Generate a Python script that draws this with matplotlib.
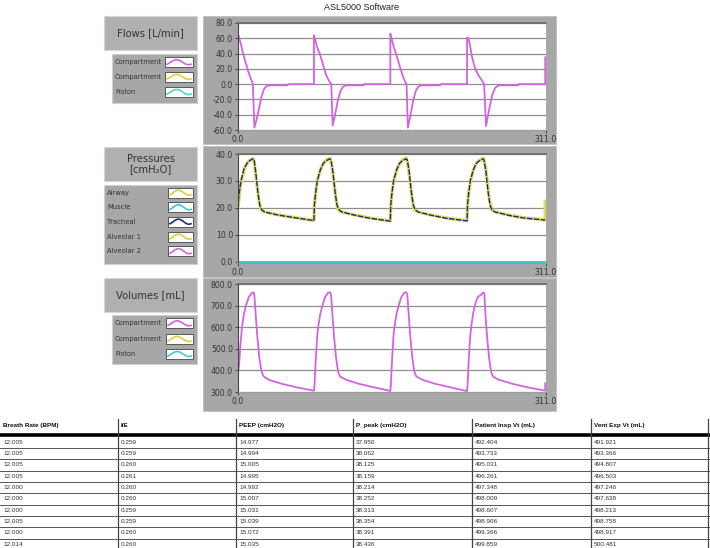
import matplotlib
matplotlib.use("Agg")
import matplotlib.pyplot as plt
from matplotlib.patches import Rectangle
import numpy as np

# ---------------- data ----------------
flow_t = [0, 1, 3, 5, 8, 11, 13.5, 15, 16.5, 19, 21.5, 24, 26.5, 29, 33, 50, 50.5,
          76.7, 76.7, 77.8, 80, 82.5, 85.5, 89, 92, 94.2, 95.6, 98, 101, 103.5, 106, 109, 127, 127.5,
          153.8, 153.8, 155, 157, 159.5, 162.5, 166, 168.5, 170.2, 171.5, 174, 177, 179.5, 182, 185, 204, 204.5,
          231.3, 231.3, 232.8, 234.5, 236.2, 239.5, 242.9, 246.2, 248.5, 250.5, 253, 256.5, 259.5, 262.5, 265.5, 283, 283.5,
          310.2, 310.2]
flow_v = [65, 62, 52, 40, 27, 14, 5, 1, -57, -45, -30, -15, -6, -2.5, -1.5, -1.5, 0,
          0, 64, 59, 48, 40, 27, 12, 4, 0, -54, -40, -20, -9, -3.5, -1.5, -1.5, 0,
          0, 66, 60, 50, 40, 27, 12, 4, 0, -57, -42, -21, -9, -3.5, -1.5, -1.5, 0,
          0, 61, 60, 49, 36, 20, 11.5, 5, 0, -55, -37, -15, -5, -2, -1.5, -1.5, 0,
          0, 35]

airway_t = [0, 0.5, 2, 4, 7, 10, 13, 15.5, 17, 19, 21, 23, 26, 40, 55, 76.7,
            77.2, 78.5, 80.5, 83.5, 87, 90, 93, 95, 97, 99, 101, 104, 118, 133, 153.8,
            154.3, 155.6, 157.6, 160.6, 164, 167, 170, 172, 174, 176, 178, 181, 195, 210, 231.3,
            231.8, 233, 235, 238, 241.5, 244.5, 247.7, 250, 252, 254, 256, 259, 273, 288, 310.2, 310.2]
airway_v = [20, 22, 27, 31, 35, 37, 38, 38.2, 35, 29, 23, 19.5, 18.6, 17.5, 16.6, 15.4,
            21, 26, 30.5, 34.5, 37, 38, 38.4, 35, 29, 23, 19.5, 18.6, 17.4, 16.3, 15.2,
            21, 26, 30.5, 34.5, 37, 38, 38.5, 35, 29, 23, 19.5, 18.6, 17.4, 16.3, 15.3,
            21, 26, 30.4, 34.5, 37, 37.8, 38.5, 35, 29, 23, 19.5, 18.6, 17.4, 16.4, 15.6, 22.5]

tracheal_t = [0, 1, 3, 6, 9, 12, 15, 16.3, 18, 20, 22, 24, 27, 40, 55, 76.7,
              77.1, 78.2, 80, 83, 86, 89, 92.5, 94, 96, 98, 100, 102, 105, 118, 133, 153.8,
              154.2, 155.3, 157, 160, 163, 166, 169.5, 171, 173, 175, 177, 179, 182, 195, 210, 231.3,
              231.7, 232.8, 234.5, 237.5, 240.5, 243.5, 247, 248.5, 250.5, 252.5, 254.5, 256.5, 259.5, 273, 288, 310.2]
tracheal_v = [20, 25, 30, 34.5, 36.5, 37.6, 38.2, 38, 33, 26, 21, 19.3, 18.5, 17.4, 16.5, 15.3,
              21, 25, 30, 34, 36.5, 37.5, 38.2, 37.8, 33, 26, 21, 19.3, 18.5, 17.3, 16.2, 15.1,
              21, 25, 30, 34, 36.5, 37.5, 38.2, 37.8, 33, 26, 21, 19.3, 18.5, 17.3, 16.2, 15.2,
              21, 25, 30, 34, 36.5, 37.4, 38.2, 37.8, 33, 26, 21, 19.3, 18.5, 17.3, 16.3, 15.5]

muscle_t = [0, 311]
muscle_v = [0, 0]

volume_t = [0, 1, 2.5, 4, 6, 8, 11, 14, 15.7, 16.5, 18, 19.5, 21.5, 23.5, 25.5, 27, 32, 45, 60, 76.7,
            77.2, 78.5, 80, 81, 83, 85.5, 88, 91, 93, 94, 95.5, 97, 99, 101, 103, 109, 122, 137, 153.8,
            154.3, 155.6, 157, 158, 160, 162.5, 165, 168, 170, 171, 172.5, 174, 176, 178, 180, 186, 199, 214, 231.3,
            231.8, 233, 234.5, 235.5, 237.5, 240, 242.5, 245, 247.5, 248.7, 250, 251.5, 253.5, 255.5, 257.5, 263, 277, 292, 310.2, 310.2]
volume_v = [385, 420, 520, 600, 660, 700, 740, 758, 762, 750, 650, 555, 460, 400, 375, 368, 355, 337, 321, 306,
            330, 450, 560, 602, 660, 705, 740, 760, 762, 748, 650, 555, 460, 395, 372, 357, 338, 322, 305,
            330, 450, 560, 602, 660, 705, 740, 760, 762, 748, 650, 555, 460, 395, 372, 357, 338, 322, 304,
            330, 450, 560, 602, 665, 715, 742, 748, 760, 758, 650, 555, 460, 395, 372, 357, 338, 322, 306, 340]

flow_ticks = [80, 60, 40, 20, 0, -20, -40, -60]
pres_ticks = [40, 30, 20, 10, 0]
vol_ticks = [800, 700, 600, 500, 400, 300]
x_ticks = [0.0, 311.0]

flow_legend = ["Compartment", "Compartment", "Piston"]
pres_legend = ["Airway", "Muscle", "Tracheal", "Alveolar 1", "Alveolar 2"]
vol_legend = ["Compartment", "Compartment", "Piston"]

tbl_headers = ["Breath Rate (BPM)", "I/E", "PEEP (cmH2O)", "P_peak (cmH2O)",
               "Patient Insp Vt (mL)", "Vent Exp Vt (mL)"]
breath_rate = ["12.005", "12.005", "12.005", "12.005", "12.000", "12.000", "12.000", "12.005", "12.000", "12.014"]
ie_ratio = ["0.259", "0.259", "0.260", "0.261", "0.260", "0.260", "0.259", "0.259", "0.260", "0.260"]
peep = ["14.977", "14.994", "15.005", "14.995", "14.992", "15.007", "15.031", "15.039", "15.072", "15.035"]
p_peak = ["37.950", "38.062", "38.125", "38.159", "38.214", "38.252", "38.313", "38.354", "38.391", "38.436"]
insp_vt = ["492.404", "493.733", "495.031", "496.261", "497.348", "498.009", "498.607", "498.906", "499.366", "499.859"]
exp_vt = ["491.921", "493.366", "494.807", "496.503", "497.246", "497.638", "498.213", "498.758", "498.917", "500.481"]

# ---------------- styling ----------------
W, H = 710, 548
VIOLET = "#d264e0"
YELLOW = "#e2da5a"
NAVY = "#1c2a82"
CYAN = "#48bcd6"
TEAL = "#48d8c0"
PANEL = "#a7a7a7"
BOX = "#b0b0b0"
FONT = "DejaVu Sans"

fig = plt.figure(figsize=(W / 100, H / 100), dpi=100)
bg = fig.add_axes([0, 0, 1, 1])
bg.set_xlim(0, W)
bg.set_ylim(H, 0)
bg.axis("off")


def fbox(l, t, w, h):
    return [l / W, 1 - (t + h) / H, w / W, h / H]


def rect(l, t, w, h, fc, ec=None, lw=0.0, z=1):
    bg.add_patch(Rectangle((l, t), w, h, facecolor=fc, edgecolor=ec if ec else fc, lw=lw, zorder=z))


bg.text(361, 7, "ASL5000 Software", ha="center", va="center", fontsize=6.5,
        family="Liberation Sans", color="#222222")


def label_box(t, h, lines):
    rect(104, t, 93, h, BOX, "#d6d6d6", 0.8)
    bg.text(150.5, t + h / 2, lines, ha="center", va="center", fontsize=7.2, family=FONT,
            color="#333333", linespacing=1.05)


def legend_box(l, t, w, h, names, colors, ys, sw_l):
    rect(l, t, w, h, PANEL, "#d0d0d0", 0.8)
    for name, col, y in zip(names, colors, ys):
        bg.text(l + 3, y, name, ha="left", va="center", fontsize=4.9, family=FONT, color="#333333")
        rect(sw_l, y - 5, 193 - sw_l, 10, "white", "#444444", 0.6, z=2)
        xs = np.linspace(sw_l + 2, 191, 40)
        ph = (xs - sw_l - 2) / (191 - sw_l - 2)
        ys_w = y + 2.5 * np.cos(2 * np.pi * (ph * 1.0 + 0.1))
        bg.plot(xs, ys_w, color=col, lw=1.2, zorder=3)


def panel(t, h):
    rect(203, t, 353, h, PANEL, "#c0c0c0", 0.6)


# Flow section
label_box(16, 34, "Flows [L/min]")
legend_box(112, 54, 85, 49, flow_legend, [VIOLET, "#e8cc3c", TEAL], [62.2, 76.9, 92.0], 165)
panel(16, 128)
# Pressure section
label_box(147, 34, "Pressures\n[cmH\u2082O]")
legend_box(104, 185, 93, 79, pres_legend, ["#d8d040", CYAN, NAVY, "#e8c840", VIOLET],
           [192.7, 207.3, 221.7, 236.7, 251.2], 168)
panel(146, 131)
# Volume section
label_box(278, 34, "Volumes [mL]")
legend_box(112, 315, 85, 49, vol_legend, [VIOLET, "#e8cc3c", "#48c8e0"], [323.3, 339.0, 354.0], 166)
panel(278, 133)


def make_axes(t, h, ylim, yticks):
    ax = fig.add_axes(fbox(238, t, 308, h), zorder=5)
    ax.set_facecolor("white")
    ax.set_xlim(0, 311)
    ax.set_ylim(*ylim)
    ax.set_yticks(yticks)
    ax.set_yticklabels(["%.1f" % v for v in yticks], fontsize=5.6, family=FONT, color="#222222")
    ax.set_xticks(x_ticks)
    ax.set_xticklabels(["%.1f" % v for v in x_ticks], fontsize=5.6, family=FONT, color="#222222")
    ax.tick_params(axis="both", direction="out", length=2.5, width=0.6, colors="#333333", pad=1.2)
    ax.grid(axis="y", color="#8e8e8e", lw=0.9)
    ax.set_axisbelow(True)
    for s in ["right"]:
        ax.spines[s].set_visible(False)
    ax.spines["top"].set_color("#6a6a6a")
    ax.spines["top"].set_linewidth(1.2)
    ax.spines["left"].set_color("#444444")
    ax.spines["left"].set_linewidth(0.8)
    ax.spines["bottom"].set_color("#9a9a9a")
    ax.spines["bottom"].set_linewidth(0.6)
    return ax


axf = make_axes(23, 107, (-60, 80), flow_ticks)
axf.plot(flow_t, flow_v, color=VIOLET, lw=1.3)

axp = make_axes(154, 109, (-0.4, 40), pres_ticks)
axp.plot(muscle_t, muscle_v, color=CYAN, lw=2.0, clip_on=False)
axp.plot(airway_t, airway_v, color=YELLOW, lw=2.4)
axp.plot(tracheal_t, tracheal_v, color=NAVY, lw=1.0, dashes=(4, 1))

axv = make_axes(284, 108, (300, 800), vol_ticks)
axv.plot(volume_t, volume_v, color=VIOLET, lw=1.3)

# ---------------- table ----------------
col_x = [0, 118, 236, 353, 472, 591]
columns = [breath_rate, ie_ratio, peep, p_peak, insp_vt, exp_vt]
TF = "Liberation Sans"
for cx, head in zip(col_x, tbl_headers):
    bg.text(cx + 3, 425.5, head, ha="left", va="center", fontsize=4.6, family=TF,
            weight="bold", color="#111111")
bg.plot([0, 710], [435, 435], color="black", lw=2.6, solid_capstyle="butt")
row_y0, row_dy = 442.3, 11.33
for i in range(len(breath_rate)):
    y = row_y0 + i * row_dy
    for cx, col in zip(col_x, columns):
        bg.text(cx + 3, y, col[i], ha="left", va="center", fontsize=4.6, family=TF, color="#333333")
    yl = y + row_dy / 2
    if yl < H - 0.5:
        bg.plot([0, 710], [yl, yl], color="#555555", lw=0.7)
for cx in col_x[1:] + [708]:
    bg.plot([cx, cx], [419, 548], color="#444444", lw=0.9)

fig.savefig("out.png", dpi=100)
